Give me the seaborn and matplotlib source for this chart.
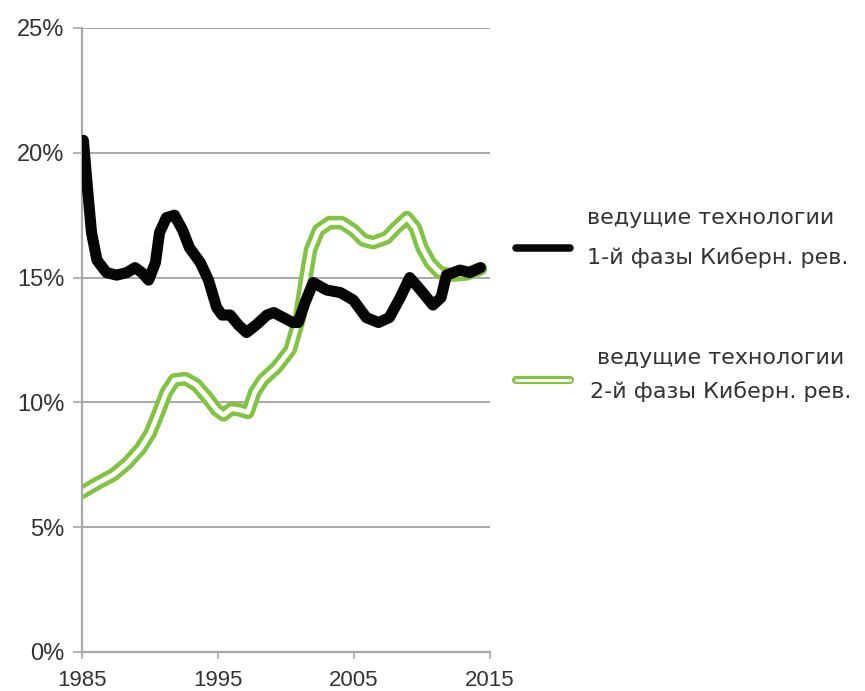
import matplotlib
matplotlib.use("Agg")
import matplotlib.pyplot as plt
import matplotlib.patheffects as pe
from matplotlib.lines import Line2D
import pandas as pd
import seaborn as sns

# Share of leading technologies of the 1st phase, %
years1 = [1985.1, 1985.4, 1985.7, 1986.1, 1986.8, 1987.55, 1988.3, 1988.9,
          1989.4, 1989.9, 1990.4, 1990.7, 1991.2, 1991.8, 1992.4, 1992.9,
          1993.7, 1994.3, 1994.9, 1995.3, 1995.9, 1996.5, 1997.1, 1997.8,
          1998.6, 1999.1, 1999.8, 2000.5, 2000.9, 2001.4, 2002.0, 2003.0,
          2004.0, 2004.95, 2005.9, 2006.8, 2007.6, 2008.4, 2009.1, 2009.9,
          2010.8, 2011.4, 2011.8, 2012.8, 2013.5, 2014.3]
phase1 = [20.5, 18.6, 16.8, 15.7, 15.2, 15.1, 15.2, 15.4,
          15.2, 14.9, 15.6, 16.8, 17.4, 17.5, 16.9, 16.2,
          15.6, 14.9, 13.8, 13.5, 13.5, 13.1, 12.8, 13.1,
          13.5, 13.6, 13.4, 13.2, 13.2, 14.0, 14.8, 14.5,
          14.4, 14.1, 13.4, 13.2, 13.4, 14.2, 15.0, 14.5,
          13.9, 14.2, 15.1, 15.3, 15.2, 15.4]

# Share of leading technologies of the 2nd phase, %
years2 = [1985.0, 1986.1, 1987.3, 1988.3, 1989.3, 1990.0, 1990.6, 1991.2,
          1991.8, 1992.6, 1993.4, 1994.2, 1994.9, 1995.4, 1996.0, 1996.6,
          1997.2, 1997.7, 1998.3, 1999.3, 2000.3, 2001.0, 2001.4, 2001.8,
          2002.4, 2003.2, 2004.1, 2004.95, 2005.7, 2006.4, 2007.4, 2008.1,
          2008.9, 2009.5, 2010.0, 2010.6, 2011.3, 2012.3, 2013.3, 2014.3]
phase2 = [6.4, 6.75, 7.1, 7.55, 8.15, 8.75, 9.55, 10.4,
          10.9, 10.95, 10.7, 10.2, 9.7, 9.5, 9.75, 9.7,
          9.6, 10.4, 10.9, 11.4, 12.1, 13.4, 14.8, 16.1,
          16.9, 17.2, 17.2, 16.9, 16.5, 16.4, 16.6, 17.0,
          17.4, 17.0, 16.2, 15.6, 15.2, 15.1, 15.15, 15.35]

x_ticks = [1985, 1995, 2005, 2015]
y_ticks = [0, 5, 10, 15, 20, 25]
label1 = ["ведущие технологии", "1-й фазы Киберн. рев."]
label2 = ["ведущие технологии", "2-й фазы Киберн. рев."]

df1 = pd.DataFrame({"year": years1, "share": phase1})
df2 = pd.DataFrame({"year": years2, "share": phase2})

sns.set_theme(style="white")
plt.rcParams["font.family"] = ["DejaVu Sans"]

W, H = 865, 691
fig = plt.figure(figsize=(W / 100, H / 100), dpi=100)
ax = fig.add_axes([82 / W, 1 - 652 / H, 408 / W, (652 - 28) / H])

GREEN = "#82c341"
GRID = "#a8a8a8"
INK = "#333333"

# hollow green line: thick green stroke with a white core
sns.lineplot(data=df2, x="year", y="share", ax=ax, color="white", linewidth=3.4,
             zorder=2, solid_joinstyle="round", solid_capstyle="round",
             path_effects=[pe.Stroke(linewidth=9.8, foreground=GREEN,
                                     joinstyle="round", capstyle="round"),
                           pe.Normal()])
sns.lineplot(data=df1, x="year", y="share", ax=ax, color="#050505",
             linewidth=8.0, zorder=3, solid_capstyle="round",
             solid_joinstyle="round")

ax.set_xlim(1985, 2015)
ax.set_ylim(0, 25)
ax.set_xticks(x_ticks)
ax.set_yticks(y_ticks)
ax.set_yticklabels([f"{v}%" for v in y_ticks])
ax.set_xlabel("")
ax.set_ylabel("")

ax.yaxis.grid(True, color=GRID, linewidth=1.4)
ax.xaxis.grid(False)
ax.set_axisbelow(True)
for side in ("top", "right"):
    ax.spines[side].set_visible(False)
for side in ("left", "bottom"):
    ax.spines[side].set_color(GRID)
    ax.spines[side].set_linewidth(1.6)

ax.tick_params(axis="y", left=True, length=6.5, width=1.2, color=GRID, pad=6,
               labelsize=17, labelcolor=INK)
ax.tick_params(axis="x", bottom=True, length=5, width=1.2, color=GRID, pad=8,
               labelsize=16, labelcolor=INK)
for lab in ax.get_xticklabels() + ax.get_yticklabels():
    lab.set_family("Liberation Sans")


# legend entries, placed in figure pixels
def fx(px):
    return px / W


def fy(py):
    return 1 - py / H


fig.add_artist(Line2D([fx(516), fx(570)], [fy(248), fy(248)], color="#050505",
                      linewidth=5.4, solid_capstyle="round"))
fig.add_artist(Line2D([fx(516), fx(570)], [fy(380), fy(380)], color="white",
                      linewidth=2.0, solid_capstyle="round",
                      path_effects=[pe.Stroke(linewidth=5.8, foreground=GREEN,
                                              capstyle="round"),
                                    pe.Normal()]))
text_kw = dict(fontsize=16, color=INK, va="center", ha="left")
fig.text(fx(587), fy(218), label1[0], **text_kw)
fig.text(fx(587), fy(258), label1[1], **text_kw)
fig.text(fx(597), fy(358), label2[0], **text_kw)
fig.text(fx(590), fy(392), label2[1], **text_kw)

fig.savefig("out.png", dpi=100)
